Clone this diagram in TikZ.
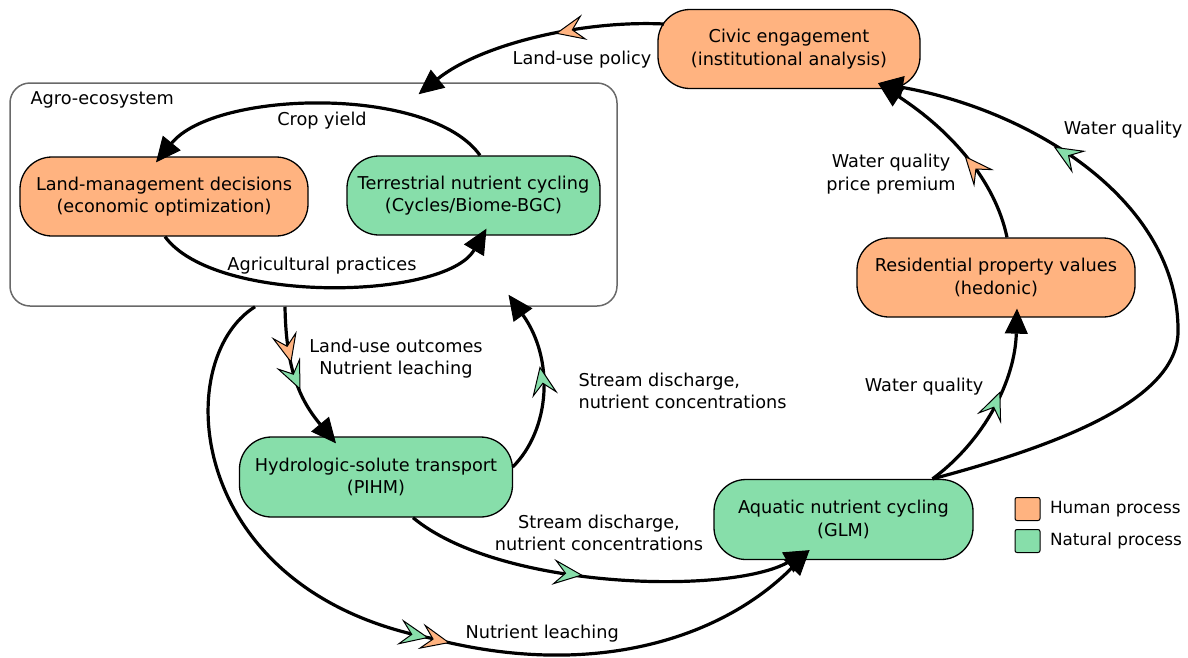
\documentclass[tikz,border=0pt]{standalone}
\usepackage{fontspec}
\setmainfont{DejaVu Sans}
\usetikzlibrary{arrows.meta,calc,decorations.markings}
\definecolor{humfill}{RGB}{255,179,128}
\definecolor{natfill}{RGB}{135,222,170}
\definecolor{agrogray}{RGB}{105,105,105}
\newcommand{\diagfont}{\fontsize{17.7}{22.5}\selectfont}
\newcommand{\keyfont}{\fontsize{16.8}{20}\selectfont}

\begin{document}
\begin{tikzpicture}[x=1pt,y=-1pt,
      every node/.style={font=\diagfont},
      process/.style={rectangle,draw=black,line width=1.3pt,rounded corners=32pt,
                      minimum height=79pt,inner sep=0pt,align=center},
      human/.style={process,fill=humfill},
      natural/.style={process,fill=natfill},
      key/.style={rectangle,draw=black,line width=1pt,rounded corners=2pt,
                  minimum width=25pt,minimum height=23pt},
      humtip/.tip={Stealth[length=30pt,width=26pt,inset=12pt,fill=humfill,line width=1pt]},
      nattip/.tip={Stealth[length=30pt,width=26pt,inset=12pt,fill=natfill,line width=1pt]},
      flow/.style={-{Triangle[length=25pt,width=23pt,line width=1pt]},line width=3.2pt,draw=black},
      hummark/.style={postaction={decorate,decoration={markings,
                      mark=at position #1 with {\arrow{humtip}}}}},
      natmark/.style={postaction={decorate,decoration={markings,
                      mark=at position #1 with {\arrow{nattip}}}}}
    ]
    \useasboundingbox (0,0) rectangle (1188,657);

    % Agro-ecosystem frame
    \node[draw=agrogray,line width=1.5pt,rounded corners=20pt,
          minimum width=607pt,minimum height=223pt] (agro) at (313.5,194.5) {};
    \node[anchor=west] (agrotitle) at (27,100) {Agro-ecosystem};

    % Processes
    \node[human,minimum width=262pt] (civic) at (789,49)
      {Civic engagement\\(institutional analysis)};
    \node[human,minimum width=288pt] (land) at (164,196.5)
      {Land-management decisions\\(economic optimization)};
    \node[natural,minimum width=253pt] (terr) at (473.5,195.5)
      {Terrestrial nutrient cycling\\(Cycles/Biome-BGC)};
    \node[natural,minimum width=273pt,minimum height=80pt] (hydro) at (376,477)
      {Hydrologic-solute transport\\(PIHM)};
    \node[natural,minimum width=259pt,minimum height=80pt] (aqua) at (843.5,519.5)
      {Aquatic nutrient cycling\\(GLM)};
    \node[human,minimum width=278pt] (resid) at (996,277.5)
      {Residential property values\\(hedonic)};

    % Legend
    \node[key,fill=humfill] (keyhum) at (1027.5,509) {};
    \node[key,fill=natfill] (keynat) at (1027.5,541) {};
    \node[anchor=west,font=\keyfont] (keyhumtxt) at ([xshift=6pt]keyhum.east) {Human process};
    \node[anchor=west,font=\keyfont] (keynattxt) at ([xshift=6pt]keynat.east) {Natural process};

    % Flows inside the agro-ecosystem
    \draw[flow] ($(terr.north)+(6.5,0)$) .. controls (430,85) and (215,90) .. ($(land.north)+(-8,6)$);
    \draw[flow] ($(land.south)+(1,0)$) .. controls (215,305) and (445,300) .. ($(terr.south)+(13,-7)$);
    \node (cropyield) at (322,121) {Crop yield};
    \node (practices) at (322,266) {Agricultural practices};

    % Land-use policy
    \draw[flow,hummark=0.42] ($(civic.center)+(-125,-25)$) .. controls (580,20) and (480,45) .. ($(agro.north)+(105,12)$);
    \node (policy) at (582,60) {Land-use policy};

    % Agro-ecosystem to hydrology and back
    \draw[flow,hummark=0.38,natmark=0.57] ($(agro.south)+(-28.5,0)$) .. controls (286,370) and (300,400) .. ($(hydro.north)+(-40,7)$);
    \node[align=center] (outcomes) at (396,358.5) {Land-use outcomes\\Nutrient leaching};
    \draw[flow,natmark=0.58] ($(hydro.east)+(-0.5,-10)$) .. controls (550,430) and (555,360) .. ($(agro.south)+(195,-12)$);
    \node[anchor=west,align=left] (streamup) at (575,391) {Stream discharge,\\nutrient concentrations};

    % Into the lake
    \draw[flow,natmark=0.44] ($(hydro.south)+(37,0)$) .. controls (500,590) and (730,595) .. ($(aqua.south)+(-34,-10)$);
    \node[align=center] (streamdown) at (599,533) {Stream discharge,\\nutrient concentrations};
    \draw[flow,natmark=0.53,hummark=0.555] ($(agro.south)+(-58.5,0)$) .. controls (170,360) and (185,590) .. (430,638)
      .. controls (590,680) and (720,640) .. ($(aqua.south)+(-34,-10)$);
    \node[anchor=west] (leaching) at (462,634) {Nutrient leaching};

    % Lake to people
    \draw[flow,natmark=0.57] ($(aqua.north)+(89,0)$) .. controls (985,440) and (1015,380) .. ($(resid.south)+(21,-9)$);
    \node (wqresid) at (924,387) {Water quality};
    \draw[flow,hummark=0.45] ($(resid.north)+(11,0)$) .. controls (995,180) and (950,130) .. ($(civic.south)+(89,-6)$);
    \node[align=center] (premium) at (891,174) {Water quality\\price premium};
    \draw[flow,natmark=0.74] ($(aqua.north)+(89,0)$) .. controls (1060,445) and (1176,400) .. (1178,333)
      .. controls (1180,200) and (1030,110) .. ($(civic.south)+(89,-6)$);
    \node (wqcivic) at (1123,130) {Water quality};

  \end{tikzpicture}
\end{document}
